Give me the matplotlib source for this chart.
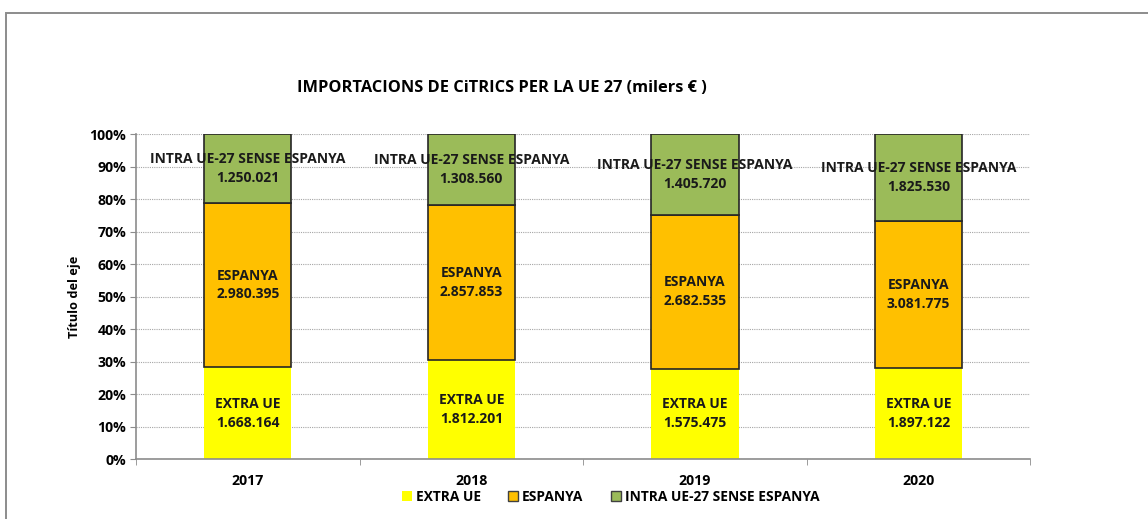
import numpy as np
import matplotlib.pyplot as plt
from matplotlib.patches import Rectangle, Patch
from matplotlib.ticker import FuncFormatter, FixedLocator

# Data (milers €)
years = ['2017', '2018', '2019', '2020']
extra_ue = [1668164, 1812201, 1575475, 1897122]
espanya = [2980395, 2857853, 2682535, 3081775]
intra_ue = [1250021, 1308560, 1405720, 1825530]
series_names = ['EXTRA UE', 'ESPANYA', 'INTRA UE-27 SENSE ESPANYA']
colors = ['#FFFF00', '#FFC000', '#9BBB59']

plt.rcParams['font.family'] = ['Open Sans', 'DejaVu Sans']
plt.rcParams['font.weight'] = 'bold'


def fmt(v):
    return f'{v:,}'.replace(',', '.')


vals = np.array([extra_ue, espanya, intra_ue], dtype=float)
shares = vals / vals.sum(axis=0) * 100

fig = plt.figure(figsize=(11.48, 5.19), dpi=100)
# outer chart frame (right and bottom edges fall outside the picture)
fig.patches.append(Rectangle((6 / 1148, -0.05), 1.1, 1 - 13 / 519 + 0.05,
                             transform=fig.transFigure, fill=False,
                             edgecolor='#8c8c8c', linewidth=1.4))
ax = fig.add_axes([0.1185, 0.1156, 0.779, 0.6262])

x = np.arange(len(years))
bottom = np.zeros(len(years))
for i, name in enumerate(series_names):
    ec = 'none' if i == 0 else '#262626'
    ax.bar(x, shares[i], 0.39, bottom=bottom, color=colors[i], edgecolor=ec,
           linewidth=1.2, label=name, zorder=2)
    for j in range(len(years)):
        ax.text(x[j], bottom[j] + shares[i][j] / 2, f'{name}\n{fmt(int(vals[i][j]))}',
                ha='center', va='center', fontsize=10, fontweight='bold',
                color='#1a1a1a', linespacing=1.45, zorder=3)
    bottom += shares[i]

ax.set_xlim(-0.5, len(years) - 0.5)
ax.set_ylim(0, 100)
ax.set_yticks(np.arange(0, 101, 10))
ax.yaxis.set_major_formatter(FuncFormatter(lambda v, p: f'{v:.0f}%'))
ax.set_xticks(x)
ax.set_xticklabels(years)
ax.xaxis.set_minor_locator(FixedLocator(np.arange(-0.5, len(years), 1)))
ax.tick_params(axis='x', which='major', length=0, pad=11, labelsize=10.2)
ax.tick_params(axis='x', which='minor', length=4, color='#8c8c8c', direction='out')
ax.tick_params(axis='y', length=4, color='#8c8c8c', labelsize=10.2, pad=3)
ax.grid(axis='y', linestyle=(0, (1, 1)), color='#a6a6a6', linewidth=0.8, zorder=0)
for s in ['top', 'right']:
    ax.spines[s].set_visible(False)
for s in ['left', 'bottom']:
    ax.spines[s].set_color('#8c8c8c')
    ax.spines[s].set_linewidth(1.2)

ax.set_ylabel('Título del eje', fontsize=9.2, fontweight='bold', labelpad=6)

fig.text(0.437, 1 - 88 / 519, 'IMPORTACIONS DE CiTRICS PER LA UE 27 (milers € )',
         ha='center', va='center', fontsize=11.8, fontweight='bold')

handles = [Patch(facecolor=colors[0], edgecolor='none'),
           Patch(facecolor=colors[1], edgecolor='#404040'),
           Patch(facecolor=colors[2], edgecolor='#404040')]
fig.legend(handles, series_names, loc='center', bbox_to_anchor=(0.532, 1 - 497 / 519),
           ncol=3, frameon=False, fontsize=9.9, handlelength=0.7, handleheight=0.7,
           handletextpad=0.3, columnspacing=2.0)

fig.savefig('out.png', dpi=100)
